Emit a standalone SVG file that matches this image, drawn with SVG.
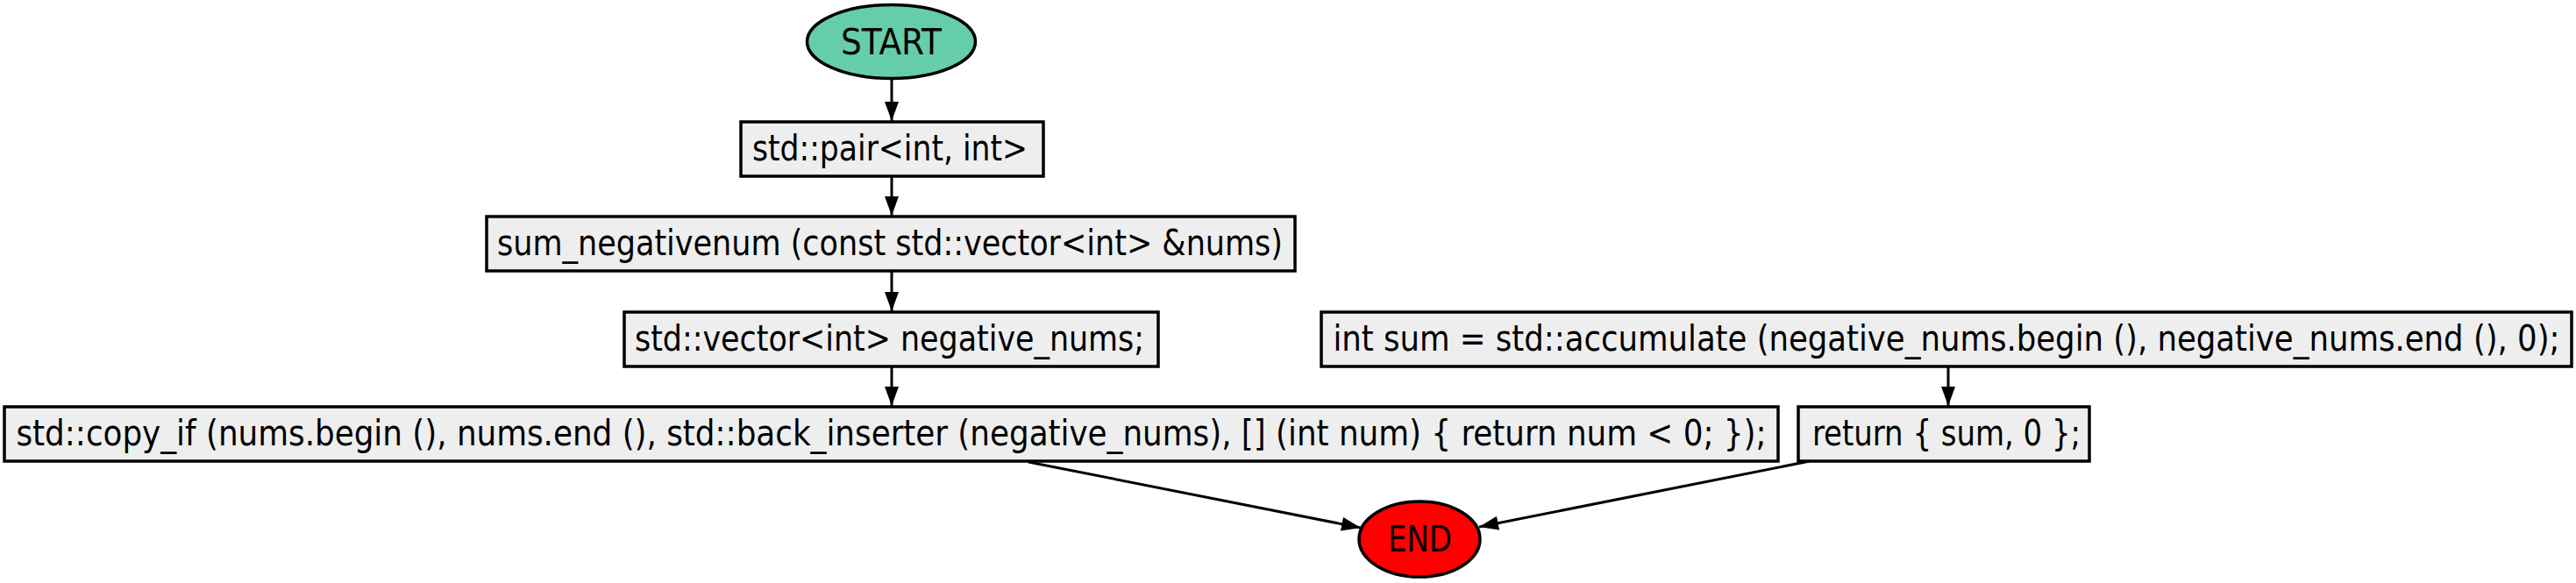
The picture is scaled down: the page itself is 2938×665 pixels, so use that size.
<svg xmlns="http://www.w3.org/2000/svg" width="2938" height="665" viewBox="0 0 2938 665">
<style>
  text { font-family: "DejaVu Sans Condensed", "DejaVu Sans", sans-serif; font-size: 40px; fill: #000; text-anchor: middle; }
  .box { fill: #eeeeee; stroke: #000; stroke-width: 3.5; }
  .edge { stroke: #000; stroke-width: 3; fill: none; marker-end: url(#arrow); }
</style>
<defs>
  <marker id="arrow" markerUnits="userSpaceOnUse" markerWidth="24" markerHeight="18" refX="22" refY="8" orient="auto">
    <path d="M0,0 L22,8 L0,16 Z" fill="#000"/>
  </marker>
</defs>
<rect width="2938" height="665" fill="#ffffff"/>
<g id="connectors">
  <line class="edge" x1="1017" y1="90" x2="1017" y2="138"/>
  <line class="edge" x1="1017" y1="201" x2="1017" y2="246"/>
  <line class="edge" x1="1017" y1="309" x2="1017" y2="355"/>
  <line class="edge" x1="1017" y1="418" x2="1017" y2="463"/>
  <line class="edge" x1="2222" y1="417" x2="2222" y2="463"/>
  <line class="edge" x1="1173" y1="527" x2="1552" y2="602"/>
  <line class="edge" x1="2064" y1="526" x2="1687" y2="601"/>
</g>
<g id="start">
  <ellipse cx="1016.5" cy="47.5" rx="96" ry="42" fill="#66cdaa" stroke="#000" stroke-width="3.5"/>
  <text x="1016.5" y="62" textLength="115" lengthAdjust="spacingAndGlyphs">START</text>
</g>
<g id="pair">
  <rect class="box" x="845" y="139" width="345" height="62"/>
  <text x="1015" y="183" textLength="314" lengthAdjust="spacingAndGlyphs">std::pair&lt;int, int&gt;</text>
</g>
<g id="sum_negativenum">
  <rect class="box" x="555" y="247" width="922" height="62"/>
  <text x="1015" y="291" textLength="896" lengthAdjust="spacingAndGlyphs">sum_negativenum (const std::vector&lt;int&gt; &amp;nums)</text>
</g>
<g id="vector_decl">
  <rect class="box" x="712" y="356" width="609" height="62"/>
  <text x="1014.5" y="400" textLength="581" lengthAdjust="spacingAndGlyphs">std::vector&lt;int&gt; negative_nums;</text>
</g>
<g id="copy_if">
  <rect class="box" x="5" y="464" width="2023" height="62"/>
  <text x="1016.5" y="508" textLength="1996" lengthAdjust="spacingAndGlyphs">std::copy_if (nums.begin (), nums.end (), std::back_inserter (negative_nums), [] (int num) { return num &lt; 0; });</text>
</g>
<g id="accumulate">
  <rect class="box" x="1507" y="356" width="1426" height="62"/>
  <text x="2220" y="400" textLength="1399" lengthAdjust="spacingAndGlyphs">int sum = std::accumulate (negative_nums.begin (), negative_nums.end (), 0);</text>
</g>
<g id="return">
  <rect class="box" x="2051" y="464" width="332" height="62"/>
  <text x="2220" y="508" textLength="306" lengthAdjust="spacingAndGlyphs">return { sum, 0 };</text>
</g>
<g id="end">
  <ellipse cx="1619" cy="615" rx="69" ry="43" fill="#ff0000" stroke="#000" stroke-width="3.5"/>
  <text x="1619.5" y="629" textLength="73" lengthAdjust="spacingAndGlyphs">END</text>
</g>
</svg>
